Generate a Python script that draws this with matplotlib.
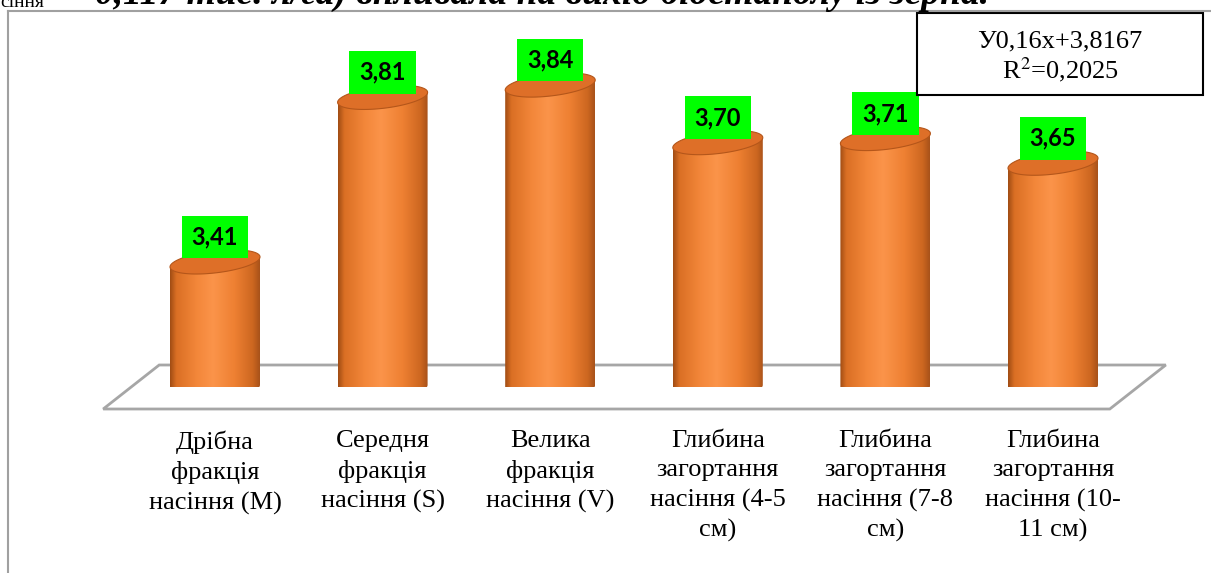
import numpy as np
import matplotlib.pyplot as plt
from matplotlib.patches import PathPatch, Rectangle, Polygon
from matplotlib.path import Path
from matplotlib.colors import LinearSegmentedColormap
from matplotlib.lines import Line2D

plt.rcParams['mathtext.fontset'] = 'stix'

# data
categories = [
    "Дрібна\nфракція\nнасіння (М)",
    "Середня\nфракція\nнасіння (S)",
    "Велика\nфракція\nнасіння (V)",
    "Глибина\nзагортання\nнасіння (4-5\nсм)",
    "Глибина\nзагортання\nнасіння (7-8\nсм)",
    "Глибина\nзагортання\nнасіння (10-\n11 см)",
]
values = [3.41, 3.81, 3.84, 3.70, 3.71, 3.65]
equation = "У0,16x+3,8167"
r_squared = "R$^2$=0,2025"
caption = "0,117 тис. л/га) впливала на вихід біоетанолу із зерна."

W, H = 1211, 573
fig = plt.figure(figsize=(W / 100, H / 100), dpi=100)

# plot area in pixels (top-down)
left, right, top, bottom = 131.2, 1136.8, 19.2, 387.0
ax = fig.add_axes([left / W, 1 - bottom / H, (right - left) / W, (bottom - top) / H])
base, ymax = 3.106, 4.0
ax.axis('off')

y_per_px = (ymax - base) / (bottom - top)
x_per_px = 6.0 / (right - left)

half_w = 45 * x_per_px
half_h = 11 * y_per_px
tilt_top = 5 * y_per_px   # right side of the top ellipse sits higher
tilt_bot = 2 * y_per_px

# floor
floor_front = base - 22 * y_per_px
floor_back = base + 22 * y_per_px
floor = Polygon([(-0.5 - 28 * x_per_px, floor_front), (5.5 - 27 * x_per_px, floor_front),
                 (5.5 + 29 * x_per_px, floor_back), (-0.5 + 28 * x_per_px, floor_back)],
                closed=True, facecolor='white', edgecolor='#A6A6A6', lw=2, zorder=1, clip_on=False)
ax.add_patch(floor)

cyl_cmap = LinearSegmentedColormap.from_list('cyl', [
    (0.0, '#A04C14'), (0.07, '#DA6F24'), (0.3, '#F3873A'), (0.48, '#FB944A'),
    (0.72, '#EE8032'), (0.92, '#CD6720'), (1.0, '#A8521A')])
grad = np.linspace(0, 1, 256).reshape(1, -1)

for i, v in enumerate(values):
    t = np.linspace(np.pi, 2 * np.pi, 60)
    xs = i + half_w * np.cos(t)
    ys = base + half_h * np.sin(t) + tilt_bot * np.cos(t)
    verts = ([(i - half_w, v - tilt_top)] + list(zip(xs, ys))
             + [(i + half_w, v + tilt_top), (i - half_w, v - tilt_top)])
    codes = [Path.MOVETO] + [Path.LINETO] * (len(verts) - 2) + [Path.CLOSEPOLY]
    body = PathPatch(Path(verts, codes), facecolor='none', edgecolor='none', zorder=2)
    ax.add_patch(body)
    im = ax.imshow(grad, extent=[i - half_w, i + half_w, base - 2 * half_h, v + tilt_top],
                   aspect='auto', cmap=cyl_cmap, origin='lower', zorder=2, interpolation='bilinear')
    im.set_clip_path(body)

    tt = np.linspace(0, 2 * np.pi, 120)
    cap = Polygon(np.column_stack([i + half_w * np.cos(tt),
                                   v + half_h * np.sin(tt) + tilt_top * np.cos(tt)]),
                  closed=True, facecolor='#DE6F28', edgecolor='#B4561A', lw=0.8, zorder=3)
    ax.add_patch(cap)

    ax.annotate(f"{v:.2f}".replace('.', ','), xy=(i, v), xytext=(0, 18), textcoords='offset points',
                ha='center', va='center', fontsize=17, fontweight='bold', family='Lato', zorder=5,
                bbox=dict(boxstyle='square,pad=0.42', facecolor='#00FF00', edgecolor='none'))
    ax.annotate(categories[i], xy=(i, base), xytext=(0, -31), textcoords='offset points',
                ha='center', va='top', fontsize=19, family='Liberation Serif', linespacing=1.42,
                annotation_clip=False)

ax.set_xlim(-0.5, 5.5)
ax.set_ylim(base, ymax)

# chart frame
fig.add_artist(Line2D([8 / W, 8 / W], [0, 1 - 11 / H], color='#A0A0A0', lw=1.5))
fig.add_artist(Line2D([8 / W, 1], [1 - 11 / H, 1 - 11 / H], color='#A0A0A0', lw=1.5))

# regression box
fig.add_artist(Rectangle((917 / W, 1 - 95 / H), 286 / W, 82 / H, transform=fig.transFigure,
                         facecolor='white', edgecolor='black', lw=1.5))
fig.text(1060 / W, 1 - 41 / H, equation, ha='center', va='center', fontsize=19,
         family='Liberation Serif')
fig.text(1060 / W, 1 - 70 / H, r_squared, ha='center', va='center', fontsize=19,
         family='Liberation Serif')

# clipped text from the page above
fig.text(0, 1 - 7 / H, "сіння", fontsize=14, family='Liberation Serif', va='baseline')
fig.text(95 / W, 1 - 4 / H, caption, fontsize=27, family='Liberation Serif',
         fontweight='bold', style='italic', va='baseline')

fig.savefig('out.png', dpi=100)
